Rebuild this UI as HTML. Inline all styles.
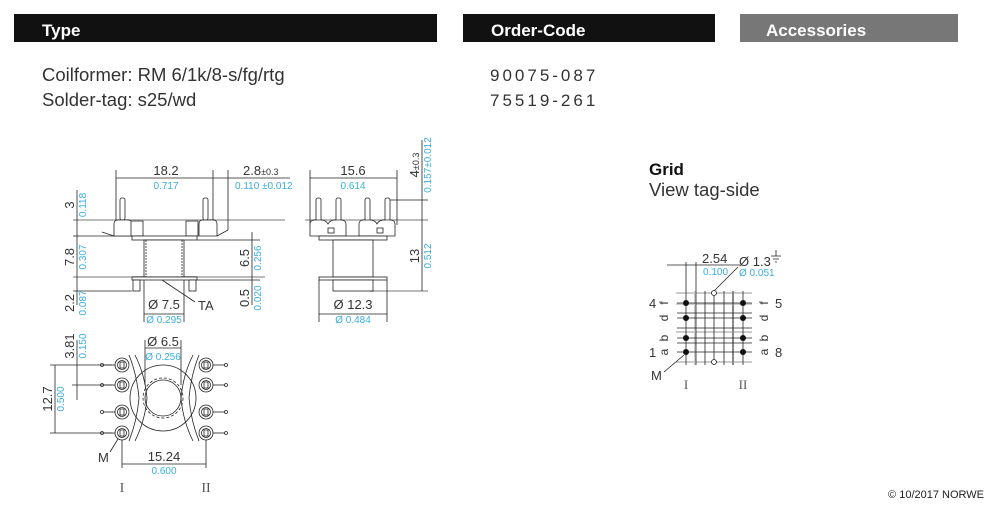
<!DOCTYPE html>
<html><head><meta charset="utf-8"><style>
body{margin:0;background:#fff;}
svg{display:block;font-family:"Liberation Sans",sans-serif;}
.t{font-size:18.5px;fill:#333;}
.oc{font-size:17px;fill:#333;letter-spacing:3px;}
.d{font-size:13px;fill:#333;}
.b{font-size:10px;fill:#3aaee0;}
.k{stroke:#222;stroke-width:0.8;fill:none;}
.g{stroke:#bbb;stroke-width:2;fill:none;}
.w{stroke:#222;stroke-width:0.8;fill:#fff;}
</style></head><body>
<svg width="1000" height="519" viewBox="0 0 1000 519">
<defs>
<g id="L">
<line class="k" x1="103" y1="0" x2="115" y2="0"/><circle class="k" cx="102" cy="0" r="1.5"/>
<circle class="w" cx="122" cy="0" r="7"/><circle class="k" cx="122" cy="0" r="4.5"/><rect class="k" x="120" y="-3" width="4" height="6"/>
</g>
</defs>
<rect x="14" y="14" width="423" height="28" fill="#111"/>
<text x="42" y="36" font-size="17" font-weight="bold" fill="#fff">Type</text>
<rect x="463" y="14" width="252" height="28" fill="#111"/>
<text x="491" y="36" font-size="17" font-weight="bold" fill="#fff">Order-Code</text>
<rect x="740" y="14" width="218" height="28" fill="#777"/>
<text x="766" y="36" font-size="17" font-weight="bold" fill="#fff">Accessories</text>
<text x="42" y="81" class="t">Coilformer:  RM 6/1k/8-s/fg/rtg</text>
<text x="42" y="106" class="t">Solder-tag:  s25/wd</text>
<text x="490" y="81" class="oc">90075-087</text>
<text x="490" y="106" class="oc">75519-261</text>

<!-- side view 1 -->
<g>
<line class="g" x1="73" y1="220" x2="285" y2="220" stroke-width="1.5"/>
<line class="g" x1="73" y1="277" x2="265" y2="277" stroke-width="1.5"/>
<line class="k" x1="73" y1="236" x2="132" y2="236"/>
<line class="k" x1="73" y1="291" x2="132" y2="291"/>
<line class="k" x1="197" y1="240" x2="260" y2="240"/>
<line class="k" x1="197" y1="280" x2="260" y2="280"/>
<line class="k" x1="116" y1="170" x2="116" y2="220"/>
<line class="k" x1="213" y1="170" x2="213" y2="220"/>
<line class="k" x1="228" y1="170" x2="228" y2="230"/>
<line class="k" x1="116" y1="178" x2="290" y2="178"/>
<text x="166" y="175" class="d" text-anchor="middle">18.2</text>
<text x="166" y="189" class="b" text-anchor="middle">0.717</text>
<text x="243" y="175" class="d">2.8<tspan font-size="9">±0.3</tspan></text>
<text x="235" y="189" class="b">0.110 ±0.012</text>
<rect class="w" x="120" y="198" width="5" height="22" rx="2"/>
<rect class="w" x="203" y="198" width="5" height="22" rx="2"/>
<path class="w" d="M114 236 v-12 q0-4 4-4 h10 q4 0 4 4 v12 z"/>
<path class="w" d="M199 236 v-12 q0-4 4-4 h10 q4 0 4 4 v12 z"/>
<rect class="w" x="131" y="221" width="12" height="15"/>
<rect class="w" x="186" y="221" width="12" height="15"/>
<path class="k" d="M102 232 l12 4 M228 230 l-11 6"/>
<rect class="w" x="132" y="236" width="65" height="4"/>
<rect class="w" x="144" y="240" width="40" height="37"/>
<line class="k" x1="146" y1="240" x2="146" y2="277" stroke-dasharray="2,1"/>
<line class="k" x1="182" y1="240" x2="182" y2="277" stroke-dasharray="2,1"/>
<rect class="w" x="132" y="277" width="65" height="3"/>
<rect class="w" x="133" y="280" width="7" height="11"/>
<rect class="w" x="189" y="280" width="7" height="11"/>
<line class="k" x1="162" y1="280" x2="195" y2="302"/>
<text x="198" y="310" class="d">TA</text>
<line class="k" x1="144" y1="280" x2="144" y2="322"/>
<line class="k" x1="184" y1="280" x2="184" y2="322"/>
<line class="k" x1="144" y1="314" x2="184" y2="314"/>
<text x="164" y="309" class="d" text-anchor="middle">Ø 7.5</text>
<text x="164" y="323" class="b" text-anchor="middle">Ø 0.295</text>
<line class="k" x1="77" y1="190" x2="77" y2="305"/>
<text transform="translate(74,205) rotate(-90)" class="d" text-anchor="middle">3</text>
<text transform="translate(86,205) rotate(-90)" class="b" text-anchor="middle">0.118</text>
<text transform="translate(74,257) rotate(-90)" class="d" text-anchor="middle">7.8</text>
<text transform="translate(86,257) rotate(-90)" class="b" text-anchor="middle">0.307</text>
<text transform="translate(74,303) rotate(-90)" class="d" text-anchor="middle">2.2</text>
<text transform="translate(86,303) rotate(-90)" class="b" text-anchor="middle">0.087</text>
<line class="k" x1="252" y1="232" x2="252" y2="305"/>
<text transform="translate(249,258) rotate(-90)" class="d" text-anchor="middle">6.5</text>
<text transform="translate(261,258) rotate(-90)" class="b" text-anchor="middle">0.256</text>
<text transform="translate(249,298) rotate(-90)" class="d" text-anchor="middle">0.5</text>
<text transform="translate(261,298) rotate(-90)" class="b" text-anchor="middle">0.020</text>
</g>

<!-- side view 2 -->
<g>
<line class="g" x1="305" y1="220" x2="428" y2="220" stroke-width="1.5"/>
<line class="g" x1="370" y1="291" x2="428" y2="291" stroke-width="1.5"/>
<line class="k" x1="310" y1="170" x2="310" y2="225"/>
<line class="k" x1="397" y1="170" x2="397" y2="225"/>
<line class="k" x1="310" y1="178" x2="397" y2="178"/>
<text x="353" y="175" class="d" text-anchor="middle">15.6</text>
<text x="353" y="189" class="b" text-anchor="middle">0.614</text>
<line class="k" x1="387" y1="200" x2="428" y2="200"/>
<line class="k" x1="422" y1="140" x2="422" y2="291"/>
<text transform="translate(419,165) rotate(-90)" class="d" text-anchor="middle">4<tspan font-size="9">±0.3</tspan></text>
<text transform="translate(431,165) rotate(-90)" class="b" text-anchor="middle">0.157±0.012</text>
<text transform="translate(419,256) rotate(-90)" class="d" text-anchor="middle">13</text>
<text transform="translate(431,256) rotate(-90)" class="b" text-anchor="middle">0.512</text>
<rect class="w" x="316" y="198" width="5" height="24" rx="2"/>
<rect class="w" x="336" y="198" width="5" height="24" rx="2"/>
<rect class="w" x="365" y="198" width="5" height="24" rx="2"/>
<rect class="w" x="385" y="198" width="5" height="24" rx="2"/>
<path class="w" d="M310 236 v-12 q0-4 5-4 h6 q5 0 7 4 q2-4 7-4 h6 q5 0 5 4 v12 z"/>
<path class="w" d="M359 236 v-12 q0-4 5-4 h6 q5 0 7 4 q2-4 7-4 h6 q5 0 5 4 v12 z"/>
<rect class="w" x="328" y="228" width="6" height="5"/>
<rect class="w" x="377" y="228" width="6" height="5"/>
<rect class="w" x="319" y="236" width="68" height="4"/>
<rect class="w" x="333" y="240" width="40" height="37"/>
<rect class="w" x="319" y="277" width="68" height="3"/>
<rect class="w" x="333" y="280" width="40" height="11"/>
<line class="k" x1="319" y1="280" x2="319" y2="322"/>
<line class="k" x1="387" y1="280" x2="387" y2="322"/>
<line class="k" x1="319" y1="314" x2="387" y2="314"/>
<text x="353" y="309" class="d" text-anchor="middle">Ø 12.3</text>
<text x="353" y="323" class="b" text-anchor="middle">Ø 0.484</text>
</g>

<!-- bottom view -->
<g>
<circle class="k" cx="163" cy="398" r="33"/>
<circle class="w" cx="163" cy="398" r="18"/>
<circle class="k" cx="163" cy="398" r="20" stroke-dasharray="3,2"/>
<line class="k" x1="145" y1="340" x2="145" y2="385"/>
<line class="k" x1="181" y1="340" x2="181" y2="385"/>
<line class="k" x1="145" y1="348" x2="181" y2="348"/>
<text x="163" y="346" class="d" text-anchor="middle">Ø 6.5</text>
<text x="163" y="360" class="b" text-anchor="middle">Ø 0.256</text>
<path class="k" d="M129 355 q8 20 10 43 q-2 23 -10 43 M135 355 q10 20 12 43 q-2 23 -12 43"/>
<path class="k" d="M199 355 q-8 20 -10 43 q2 23 10 43 M193 355 q-10 20 -12 43 q2 23 12 43"/>
<use href="#L" y="365"/><use href="#L" y="385"/><use href="#L" y="412"/><use href="#L" y="433"/>
<g transform="translate(328,0) scale(-1,1)">
<use href="#L" y="365"/><use href="#L" y="385"/><use href="#L" y="412"/><use href="#L" y="433"/>
</g>
<line class="k" x1="50" y1="365" x2="112" y2="365"/>
<line class="k" x1="50" y1="433" x2="112" y2="433"/>
<line class="k" x1="72" y1="385" x2="112" y2="385"/>
<line class="k" x1="55" y1="365" x2="55" y2="433"/>
<line class="k" x1="77" y1="340" x2="77" y2="400"/>
<text transform="translate(52,399) rotate(-90)" class="d" text-anchor="middle">12.7</text>
<text transform="translate(64,399) rotate(-90)" class="b" text-anchor="middle">0.500</text>
<text transform="translate(74,346) rotate(-90)" class="d" text-anchor="middle">3.81</text>
<text transform="translate(86,346) rotate(-90)" class="b" text-anchor="middle">0.150</text>
<line class="k" x1="122" y1="440" x2="122" y2="468"/>
<line class="k" x1="206" y1="440" x2="206" y2="468"/>
<line class="k" x1="122" y1="464" x2="206" y2="464"/>
<text x="164" y="461" class="d" text-anchor="middle">15.24</text>
<text x="164" y="474" class="b" text-anchor="middle">0.600</text>
<line class="k" x1="118" y1="439" x2="110" y2="452"/>
<text x="98" y="462" class="d">M</text>
<text x="122" y="492" font-family="Liberation Serif" font-size="14" fill="#555" text-anchor="middle">I</text>
<text x="206" y="492" font-family="Liberation Serif" font-size="14" fill="#555" text-anchor="middle">II</text>
</g>

<!-- grid -->
<text x="649" y="175" font-size="17" font-weight="bold" fill="#111">Grid</text>
<text x="649" y="196" class="t">View tag-side</text>
<g>
<g stroke="#ccc" stroke-width="2">
<line x1="676" y1="293" x2="752" y2="293"/><line x1="676" y1="304" x2="752" y2="304"/>
<line x1="676" y1="332" x2="752" y2="332"/><line x1="676" y1="362" x2="752" y2="362"/>
<line x1="695" y1="291" x2="695" y2="365"/><line x1="733" y1="291" x2="733" y2="365"/>
</g>
<g class="k" stroke-width="0.7">
<line x1="677" y1="303" x2="752" y2="303"/><line x1="677" y1="313" x2="752" y2="313"/>
<line x1="677" y1="318" x2="752" y2="318"/><line x1="677" y1="328" x2="752" y2="328"/>
<line x1="677" y1="338" x2="752" y2="338"/><line x1="677" y1="343" x2="752" y2="343"/>
<line x1="677" y1="352" x2="752" y2="352"/>
<line x1="686" y1="262" x2="686" y2="365"/><line x1="696" y1="262" x2="696" y2="365"/>
<line x1="705" y1="291" x2="705" y2="365"/><line x1="714" y1="291" x2="714" y2="365"/>
<line x1="724" y1="291" x2="724" y2="365"/><line x1="733" y1="291" x2="733" y2="365"/>
<line x1="743" y1="291" x2="743" y2="365"/>
<line x1="667" y1="265" x2="740" y2="265"/>
<line x1="714" y1="291" x2="738" y2="267"/>
</g>
<g fill="#111">
<circle cx="686" cy="303" r="3"/><circle cx="686" cy="318" r="3"/><circle cx="686" cy="338" r="3"/><circle cx="686" cy="352" r="3"/>
<circle cx="743" cy="303" r="3"/><circle cx="743" cy="318" r="3"/><circle cx="743" cy="338" r="3"/><circle cx="743" cy="352" r="3"/>
</g>
<circle class="w" cx="714" cy="293" r="2.5"/><circle class="w" cx="714" cy="362" r="2.5"/>
<text x="702" y="263" class="d">2.54</text>
<text x="703" y="275" class="b">0.100</text>
<text x="739" y="266" class="d">Ø 1.3</text>
<path class="k" d="M776 250 v6 M771 256 h10 M773 259 h6 M775 262 h2"/>
<text x="739" y="276" class="b">Ø 0.051</text>
<text x="649" y="308" class="d">4</text><text x="649" y="357" class="d">1</text>
<text x="775" y="308" class="d">5</text><text x="775" y="357" class="d">8</text>
<g font-size="12" fill="#333">
<text transform="translate(668,303) rotate(-90)" text-anchor="middle">f</text>
<text transform="translate(668,318) rotate(-90)" text-anchor="middle">d</text>
<text transform="translate(668,338) rotate(-90)" text-anchor="middle">b</text>
<text transform="translate(668,352) rotate(-90)" text-anchor="middle">a</text>
<text transform="translate(768,303) rotate(-90)" text-anchor="middle">f</text>
<text transform="translate(768,318) rotate(-90)" text-anchor="middle">d</text>
<text transform="translate(768,338) rotate(-90)" text-anchor="middle">b</text>
<text transform="translate(768,352) rotate(-90)" text-anchor="middle">a</text>
</g>
<line class="k" x1="684" y1="355" x2="664" y2="372"/>
<text x="651" y="380" class="d">M</text>
<text x="686" y="389" font-family="Liberation Serif" font-size="13" fill="#555" text-anchor="middle">I</text>
<text x="743" y="389" font-family="Liberation Serif" font-size="13" fill="#555" text-anchor="middle">II</text>
</g>
<text x="984" y="498" font-size="11" fill="#222" text-anchor="end">© 10/2017 NORWE</text>
</svg>
</body></html>
